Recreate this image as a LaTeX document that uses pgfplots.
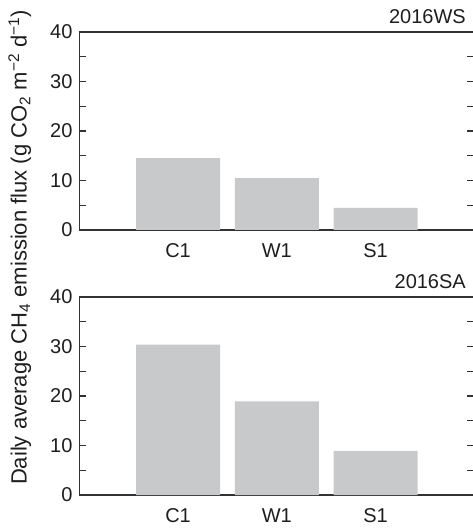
\documentclass[border=0pt]{standalone}
\usepackage{fontspec}
\setmainfont{Liberation Sans}
\usepackage{pgfplots}
\pgfplotsset{compat=1.18}
\definecolor{barg}{RGB}{200,201,203}
\definecolor{axg}{RGB}{50,50,50}
\definecolor{txt}{RGB}{30,30,30}
\pgfplotsset{
  panel/.style={
    scale only axis, width=395pt, height=198pt,
    anchor=south west,
    xmin=0, xmax=4, ymin=0, ymax=40,
    xtick={1,2,3}, xticklabels={C1,W1,S1},
    ytick={0,10,20,30,40}, minor ytick={5,15,25,35},
    tick align=inside, ytick pos=both, yticklabel pos=left,
    major tick length=7pt, minor tick length=7pt,
    axis line style={axg, line width=1.3pt},
    tick style={axg, line width=1.3pt},
    xtick style={draw=none},
    /pgf/number format/assume math mode=true,
    ticklabel style={font=\fontsize{20}{24}\selectfont, text=txt},
    ybar, bar width=84pt,
  }
}
\begin{document}
\fontsize{20}{24}\selectfont
\begin{tikzpicture}
\begin{axis}[panel, at={(79.3pt,298pt)}]
\addplot[fill=barg, draw=none] coordinates {(1,14.5) (2,10.5) (3,4.45)};
\end{axis}
\begin{axis}[panel, at={(79.3pt,33pt)}]
\addplot[fill=barg, draw=none] coordinates {(1,30.4) (2,18.9) (3,8.9)};
\end{axis}
\node[anchor=base east, text=txt, inner sep=0pt] at (466pt,504.7pt) {2016WS};
\node[anchor=base east, text=txt, inner sep=0pt] at (466pt,239.7pt) {2016SA};
\node[rotate=90, anchor=base, text=txt, inner sep=0pt, font=\fontsize{22}{26}\selectfont] at (26.7pt,280.5pt)
  {Daily average CH\textsubscript{4} emission flux (g CO\textsubscript{2} m\textsuperscript{−2} d\textsuperscript{−1})};
\pgfresetboundingbox
\useasboundingbox (0pt,0pt) rectangle (473pt,528pt);
\end{tikzpicture}
\end{document}
